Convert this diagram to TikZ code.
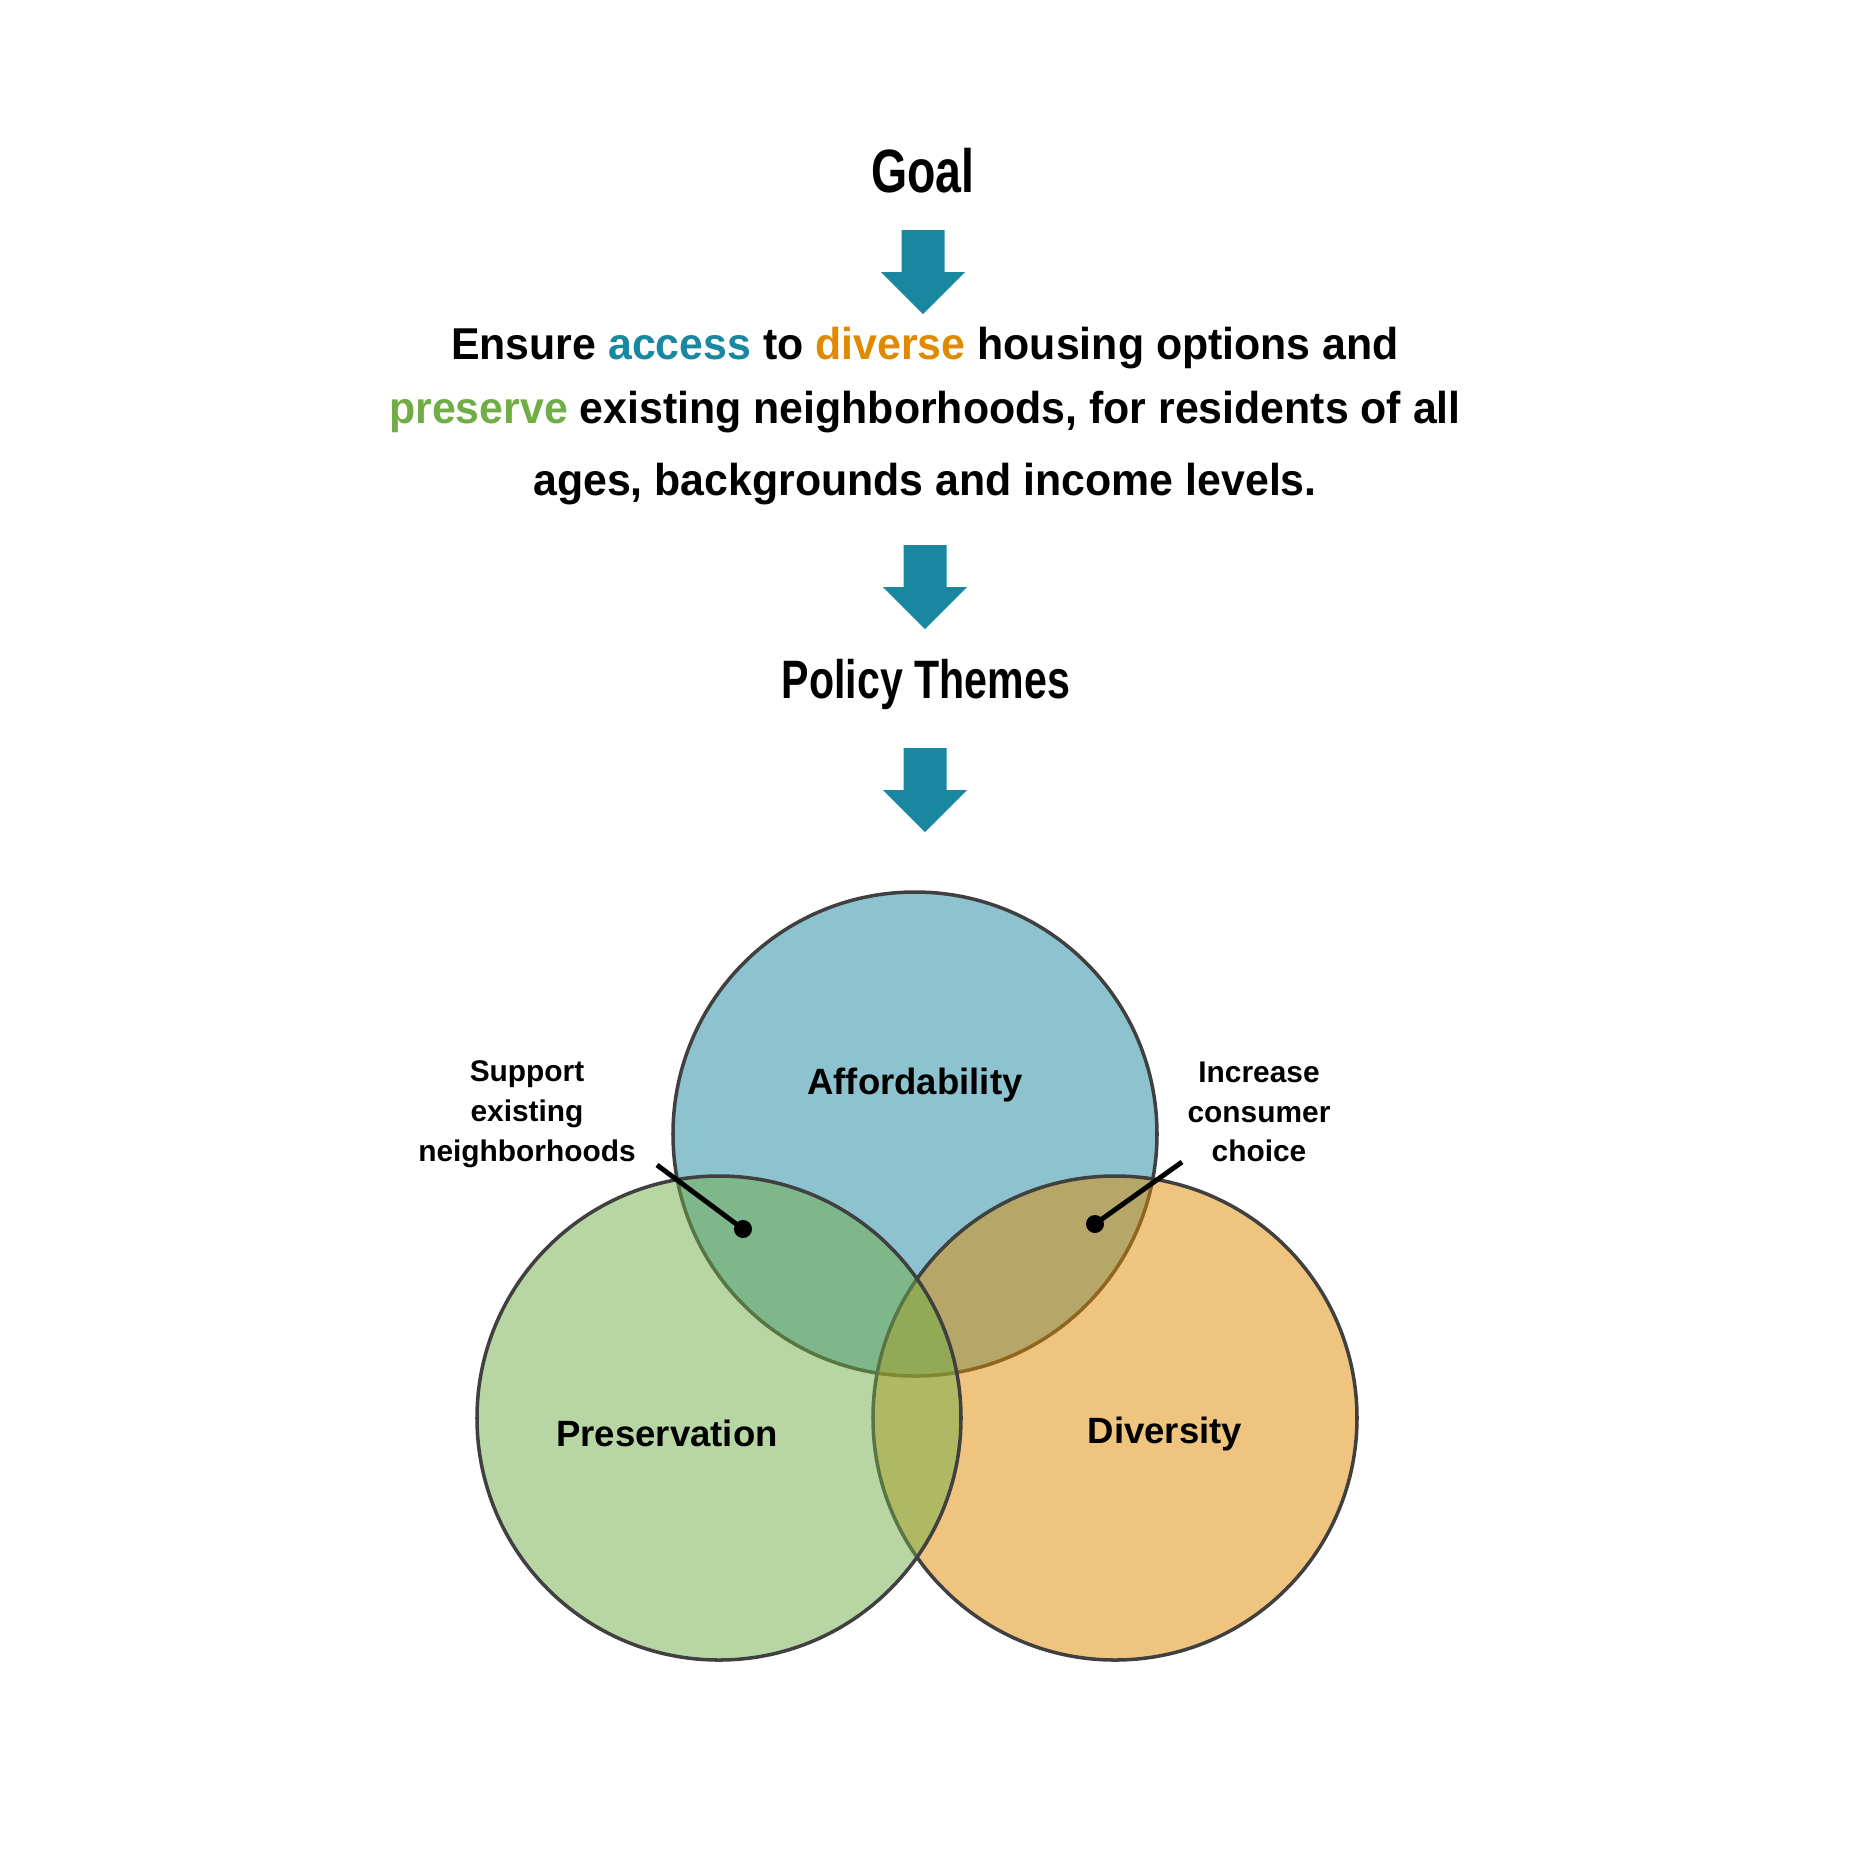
\documentclass[tikz,border=0pt]{standalone}
\usepackage{fontspec}
\setmainfont{Liberation Sans}
\newfontfamily\condfont[FakeStretch=0.76]{Liberation Sans}
\newfontfamily\stmtfont[FakeStretch=0.96]{Liberation Sans}
\usepackage{xcolor}
\usepackage{tikz}
\usetikzlibrary{positioning}

\definecolor{accessblue}{HTML}{1A87A0}
\definecolor{diverseorange}{HTML}{E08A00}
\definecolor{preservegreen}{HTML}{70AD47}
\definecolor{ringgray}{HTML}{404040}

\begin{document}
\begin{tikzpicture}[
  heading/.style={font=\condfont\bfseries\fontsize{17.4}{20}\selectfont, inner sep=0pt},
  statement/.style={font=\stmtfont\bfseries\fontsize{12.7}{18.4}\selectfont, align=center, inner sep=0pt},
  ring/.style={draw=ringgray, line width=1pt, fill opacity=0.5},
  ringlabel/.style={font=\bfseries\fontsize{10.4}{12}\selectfont, inner sep=0pt},
  callout/.style={font=\bfseries\fontsize{8.5}{11.3}\selectfont, align=center, inner sep=0pt},
  pointer/.style={line width=1.4pt, black},
  blockarrow/.style={fill=accessblue}
]
\useasboundingbox (0,0) rectangle (18.49,-18.49);

% headings and goal statement
\node[heading] (goal) at (9.23,-1.71) {Goal};
\node[statement] (ensure) at (9.25,-4.16) {Ensure \textcolor{accessblue}{access} to \textcolor{diverseorange}{diverse} housing options and\\
  \textcolor{preservegreen}{preserve} existing neighborhoods, for residents of all\\[2pt]
  ages, backgrounds and income levels.};
\node[heading, font=\condfont\bfseries\fontsize{15.4}{18}\selectfont] (themes) at (9.26,-6.84) {Policy Themes};

% block arrows
\coordinate (arrA) at (9.23,-2.30);
\coordinate (arrB) at (9.25,-5.45);
\coordinate (arrC) at (9.25,-7.48);
\foreach \a in {arrA,arrB,arrC}
  \fill[blockarrow] (\a) ++(-0.215,0) -- ++(0.43,0) -- ++(0,-0.42) -- ++(0.205,0)
    -- ++(-0.42,-0.42) -- ++(-0.42,0.42) -- ++(0.205,0) -- cycle;

% venn circles (blue, then orange, then green on top)
\draw[ring, fill=accessblue]    (9.15,-11.34) circle (2.42);
\draw[ring, fill=diverseorange] (11.15,-14.18) circle (2.42);
\draw[ring, fill=preservegreen] (7.19,-14.18) circle (2.42);

\node[ringlabel] (afford)   at (9.15,-10.85) {Affordability};
\node[ringlabel] (preserve) at (6.67,-14.33) {Preservation};
\node[ringlabel] (diverse)  at (11.65,-14.34) {Diversity};

% overlap callouts
\node[callout] (support)  at (5.27,-11.14) {Support\\existing\\neighborhoods};
\node[callout] (increase) at (12.59,-11.12) {Increase\\consumer\\choice};
\coordinate (supportend)  at (6.57,-11.65);
\coordinate (supportdot)  at (7.43,-12.29);
\coordinate (increaseend) at (11.82,-11.62);
\coordinate (increasedot) at (10.95,-12.24);
\draw[pointer] (supportend) -- (supportdot);
\draw[pointer] (increaseend) -- (increasedot);
\fill (supportdot) circle (0.09);
\fill (increasedot) circle (0.09);
\end{tikzpicture}
\end{document}
